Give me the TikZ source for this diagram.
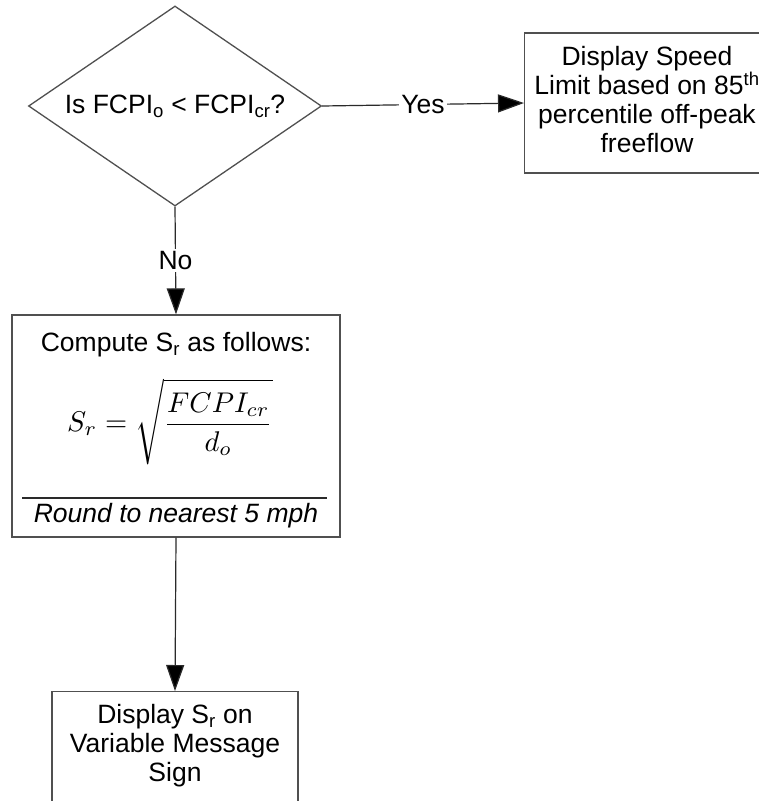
\documentclass[tikz,border=0pt]{standalone}
\usepackage{fontspec}
\usepackage{graphicx}
\setmainfont{Liberation Sans}
\usetikzlibrary{shapes.geometric,arrows.meta}
\definecolor{edge}{HTML}{505050}
\definecolor{wire}{HTML}{2A2A2A}
\tikzset{
  box/.style={draw=edge, line width=1.3pt, fill=white, align=center, inner sep=0pt,
              font=\fontsize{26.5}{29}\selectfont},
  txt/.style={align=center, inner sep=0pt, font=\fontsize{26.5}{29}\selectfont},
  flow/.style={draw=wire, line width=1.2pt, -{Triangle[length=26pt,width=18pt,fill=black]}},
  lbl/.style={fill=white, inner sep=2pt, font=\fontsize{26.5}{29}\selectfont},
}
\begin{document}
\begin{tikzpicture}[x=1pt,y=-1pt]
\useasboundingbox (0,0) rectangle (759,801);
\clip (0,0) rectangle (759,801);

% decision
\node[box, diamond, aspect=1.465, minimum width=293pt, minimum height=200pt] (dec) at (175,106)
  {Is FCPI\textsubscript{o} < FCPI\textsubscript{cr}?};

% "yes" outcome
\node[box, anchor=west, minimum width=246pt, minimum height=140pt] (spd) at (524,103) {};
\node[txt] (spdtxt) at (647,100)
  {Display Speed\\Limit based on 85\textsuperscript{th}\\percentile off-peak\\freeflow};

% computation box
\node[box, minimum width=328pt, minimum height=222pt] (comp) at (176,426) {};
\node[txt] (comptitle) at (176,345) {Compute S\textsubscript{r} as follows:};
\node[inner sep=0pt] (formula) at (170,422)
  {\scalebox{2.85}{\fontsize{10}{12}\selectfont
   $\displaystyle S_r=\sqrt{\rule[-1.15em]{0pt}{2.75em}\frac{FCPI_{cr}}{d_o}}$}};
\coordinate (rl) at (22,498);
\coordinate (rr) at (327,498);
\draw[draw=wire, line width=1.1pt] (rl) -- (rr);
\node[txt, font=\fontsize{26.5}{29}\selectfont\itshape] (round) at (176,516) {Round to nearest 5 mph};

% display box
\node[box, anchor=north, minimum width=246pt, minimum height=120pt] (disp) at (175,691) {};
\node[txt] (disptxt) at (175,746) {Display S\textsubscript{r} on\\Variable Message\\Sign};

% connectors
\draw[flow] (dec.east) -- node[lbl] (yes) {Yes} (spd.west);
\draw[flow] (dec.south) -- node[lbl, pos=0.5] (no) {No} (comp.north);
\draw[flow] (comp.south) -- (disp.north);
\end{tikzpicture}
\end{document}
